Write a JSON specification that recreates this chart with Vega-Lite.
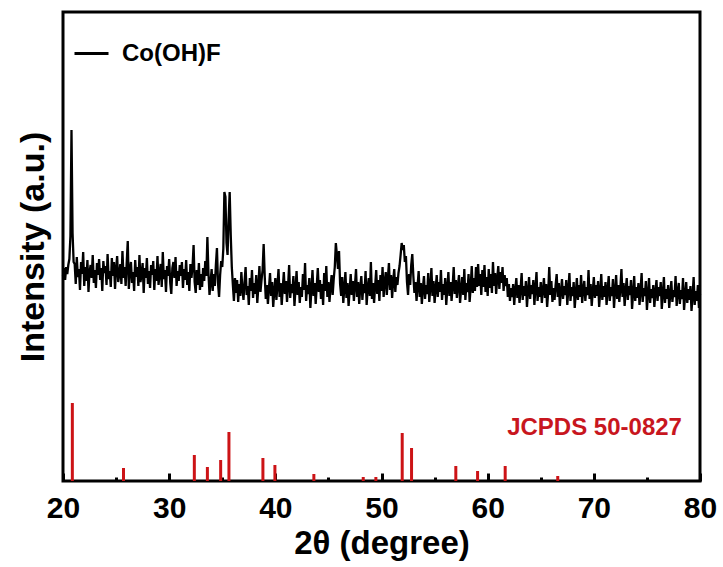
{
  "$schema": "https://vega.github.io/schema/vega-lite/v6.json",
  "width": 637,
  "height": 469,
  "autosize": {"type": "none"},
  "padding": {"left": 63, "top": 12, "right": 23, "bottom": 86},
  "background": "white",
  "config": {
    "view": {"stroke": "black", "strokeWidth": 3},
    "font": "Liberation Sans"
  },
  "datasets": {
    "xrd": [
{"t":20.0,"i":205},{"t":20.1,"i":213},{"t":20.2,"i":201},{"t":20.3,"i":214},{"t":20.4,"i":207},{"t":20.5,"i":216},{"t":20.6,"i":222},{"t":20.7,"i":245},{"t":20.8,"i":351},{"t":20.9,"i":248},{"t":21.0,"i":219},
{"t":21.1,"i":217},{"t":21.2,"i":197},{"t":21.3,"i":224},{"t":21.4,"i":204},{"t":21.5,"i":212},{"t":21.6,"i":191},{"t":21.7,"i":219},{"t":21.8,"i":207},{"t":21.9,"i":229},{"t":22.0,"i":195},
{"t":22.1,"i":214},{"t":22.2,"i":200},{"t":22.3,"i":221},{"t":22.4,"i":189},{"t":22.5,"i":209},{"t":22.6,"i":216},{"t":22.7,"i":203},{"t":22.8,"i":226},{"t":22.9,"i":198},{"t":23.0,"i":211},
{"t":23.1,"i":193},{"t":23.2,"i":218},{"t":23.3,"i":206},{"t":23.4,"i":222},{"t":23.5,"i":201},{"t":23.6,"i":213},{"t":23.7,"i":190},{"t":23.8,"i":220},{"t":23.9,"i":208},{"t":24.0,"i":215},
{"t":24.1,"i":196},{"t":24.2,"i":227},{"t":24.3,"i":202},{"t":24.4,"i":210},{"t":24.5,"i":194},{"t":24.6,"i":223},{"t":24.7,"i":205},{"t":24.8,"i":219},{"t":24.9,"i":192},{"t":25.0,"i":212},
{"t":25.1,"i":225},{"t":25.2,"i":199},{"t":25.3,"i":207},{"t":25.4,"i":217},{"t":25.5,"i":197},{"t":25.6,"i":230},{"t":25.7,"i":203},{"t":25.8,"i":214},{"t":25.9,"i":195},{"t":26.0,"i":218},
{"t":26.1,"i":240},{"t":26.2,"i":192},{"t":26.3,"i":211},{"t":26.4,"i":219},{"t":26.5,"i":198},{"t":26.6,"i":209},{"t":26.7,"i":190},{"t":26.8,"i":221},{"t":26.9,"i":204},{"t":27.0,"i":214},
{"t":27.1,"i":195},{"t":27.2,"i":226},{"t":27.3,"i":199},{"t":27.4,"i":207},{"t":27.5,"i":218},{"t":27.6,"i":188},{"t":27.7,"i":213},{"t":27.8,"i":203},{"t":27.9,"i":223},{"t":28.0,"i":197},
{"t":28.1,"i":210},{"t":28.2,"i":193},{"t":28.3,"i":216},{"t":28.4,"i":206},{"t":28.5,"i":220},{"t":28.6,"i":191},{"t":28.7,"i":212},{"t":28.8,"i":200},{"t":28.9,"i":225},{"t":29.0,"i":196},
{"t":29.1,"i":208},{"t":29.2,"i":217},{"t":29.3,"i":194},{"t":29.4,"i":229},{"t":29.5,"i":202},{"t":29.6,"i":211},{"t":29.7,"i":189},{"t":29.8,"i":215},{"t":29.9,"i":205},{"t":30.0,"i":222},
{"t":30.1,"i":198},{"t":30.2,"i":187},{"t":30.3,"i":213},{"t":30.4,"i":219},{"t":30.5,"i":203},{"t":30.6,"i":224},{"t":30.7,"i":195},{"t":30.8,"i":210},{"t":30.9,"i":200},{"t":31.0,"i":216},
{"t":31.1,"i":205},{"t":31.2,"i":219},{"t":31.3,"i":193},{"t":31.4,"i":212},{"t":31.5,"i":201},{"t":31.6,"i":221},{"t":31.7,"i":196},{"t":31.8,"i":209},{"t":31.9,"i":190},{"t":32.0,"i":217},
{"t":32.1,"i":203},{"t":32.2,"i":214},{"t":32.3,"i":236},{"t":32.4,"i":199},{"t":32.5,"i":188},{"t":32.6,"i":211},{"t":32.7,"i":196},{"t":32.8,"i":218},{"t":32.9,"i":191},{"t":33.0,"i":207},
{"t":33.1,"i":194},{"t":33.2,"i":213},{"t":33.3,"i":200},{"t":33.4,"i":220},{"t":33.5,"i":205},{"t":33.6,"i":244},{"t":33.7,"i":208},{"t":33.8,"i":186},{"t":33.9,"i":199},{"t":34.0,"i":212},
{"t":34.1,"i":190},{"t":34.2,"i":207},{"t":34.3,"i":195},{"t":34.4,"i":216},{"t":34.5,"i":233},{"t":34.6,"i":198},{"t":34.7,"i":184},{"t":34.8,"i":206},{"t":34.9,"i":220},{"t":35.0,"i":214},
{"t":35.1,"i":232},{"t":35.2,"i":289},{"t":35.3,"i":284},{"t":35.4,"i":238},{"t":35.5,"i":226},{"t":35.6,"i":262},{"t":35.7,"i":289},{"t":35.8,"i":246},{"t":35.9,"i":214},{"t":36.0,"i":196},
{"t":36.1,"i":180},{"t":36.2,"i":203},{"t":36.3,"i":188},{"t":36.4,"i":201},{"t":36.5,"i":179},{"t":36.6,"i":197},{"t":36.7,"i":185},{"t":36.8,"i":209},{"t":36.9,"i":192},{"t":37.0,"i":181},
{"t":37.1,"i":199},{"t":37.2,"i":214},{"t":37.3,"i":186},{"t":37.4,"i":195},{"t":37.5,"i":176},{"t":37.6,"i":203},{"t":37.7,"i":190},{"t":37.8,"i":211},{"t":37.9,"i":183},{"t":38.0,"i":198},
{"t":38.1,"i":187},{"t":38.2,"i":206},{"t":38.3,"i":178},{"t":38.4,"i":194},{"t":38.5,"i":215},{"t":38.6,"i":189},{"t":38.7,"i":201},{"t":38.8,"i":211},{"t":38.9,"i":237},{"t":39.0,"i":205},
{"t":39.1,"i":182},{"t":39.2,"i":196},{"t":39.3,"i":177},{"t":39.4,"i":193},{"t":39.5,"i":208},{"t":39.6,"i":185},{"t":39.7,"i":199},{"t":39.8,"i":174},{"t":39.9,"i":190},{"t":40.0,"i":203},
{"t":40.1,"i":181},{"t":40.2,"i":196},{"t":40.3,"i":212},{"t":40.4,"i":184},{"t":40.5,"i":198},{"t":40.6,"i":176},{"t":40.7,"i":193},{"t":40.8,"i":209},{"t":40.9,"i":187},{"t":41.0,"i":200},
{"t":41.1,"i":179},{"t":41.2,"i":195},{"t":41.3,"i":216},{"t":41.4,"i":183},{"t":41.5,"i":197},{"t":41.6,"i":188},{"t":41.7,"i":205},{"t":41.8,"i":175},{"t":41.9,"i":192},{"t":42.0,"i":210},
{"t":42.1,"i":186},{"t":42.2,"i":199},{"t":42.3,"i":178},{"t":42.4,"i":194},{"t":42.5,"i":184},{"t":42.6,"i":207},{"t":42.7,"i":191},{"t":42.8,"i":218},{"t":42.9,"i":180},{"t":43.0,"i":196},
{"t":43.1,"i":187},{"t":43.2,"i":203},{"t":43.3,"i":173},{"t":43.4,"i":192},{"t":43.5,"i":211},{"t":43.6,"i":185},{"t":43.7,"i":198},{"t":43.8,"i":177},{"t":43.9,"i":195},{"t":44.0,"i":213},
{"t":44.1,"i":189},{"t":44.2,"i":201},{"t":44.3,"i":182},{"t":44.4,"i":197},{"t":44.5,"i":176},{"t":44.6,"i":208},{"t":44.7,"i":190},{"t":44.8,"i":215},{"t":44.9,"i":184},{"t":45.0,"i":199},
{"t":45.1,"i":179},{"t":45.2,"i":194},{"t":45.3,"i":206},{"t":45.4,"i":186},{"t":45.5,"i":202},{"t":45.6,"i":214},{"t":45.7,"i":238},{"t":45.8,"i":226},{"t":45.9,"i":212},{"t":46.0,"i":230},
{"t":46.1,"i":197},{"t":46.2,"i":185},{"t":46.3,"i":204},{"t":46.4,"i":178},{"t":46.5,"i":193},{"t":46.6,"i":209},{"t":46.7,"i":183},{"t":46.8,"i":198},{"t":46.9,"i":175},{"t":47.0,"i":191},
{"t":47.1,"i":207},{"t":47.2,"i":186},{"t":47.3,"i":200},{"t":47.4,"i":180},{"t":47.5,"i":196},{"t":47.6,"i":212},{"t":47.7,"i":184},{"t":47.8,"i":199},{"t":47.9,"i":177},{"t":48.0,"i":194},
{"t":48.1,"i":205},{"t":48.2,"i":181},{"t":48.3,"i":197},{"t":48.4,"i":188},{"t":48.5,"i":210},{"t":48.6,"i":176},{"t":48.7,"i":193},{"t":48.8,"i":203},{"t":48.9,"i":185},{"t":49.0,"i":219},
{"t":49.1,"i":182},{"t":49.2,"i":198},{"t":49.3,"i":178},{"t":49.4,"i":195},{"t":49.5,"i":211},{"t":49.6,"i":187},{"t":49.7,"i":201},{"t":49.8,"i":180},{"t":49.9,"i":206},{"t":50.0,"i":190},
{"t":50.1,"i":214},{"t":50.2,"i":184},{"t":50.3,"i":199},{"t":50.4,"i":209},{"t":50.5,"i":186},{"t":50.6,"i":203},{"t":50.7,"i":218},{"t":50.8,"i":191},{"t":50.9,"i":206},{"t":51.0,"i":183},
{"t":51.1,"i":200},{"t":51.2,"i":212},{"t":51.3,"i":189},{"t":51.4,"i":204},{"t":51.5,"i":196},{"t":51.6,"i":208},{"t":51.7,"i":215},{"t":51.8,"i":226},{"t":51.9,"i":238},{"t":52.0,"i":231},
{"t":52.1,"i":236},{"t":52.2,"i":219},{"t":52.3,"i":225},{"t":52.4,"i":199},{"t":52.5,"i":186},{"t":52.6,"i":207},{"t":52.7,"i":196},{"t":52.8,"i":216},{"t":52.9,"i":227},{"t":53.0,"i":205},
{"t":53.1,"i":188},{"t":53.2,"i":199},{"t":53.3,"i":180},{"t":53.4,"i":195},{"t":53.5,"i":210},{"t":53.6,"i":184},{"t":53.7,"i":198},{"t":53.8,"i":177},{"t":53.9,"i":193},{"t":54.0,"i":205},
{"t":54.1,"i":182},{"t":54.2,"i":196},{"t":54.3,"i":187},{"t":54.4,"i":208},{"t":54.5,"i":179},{"t":54.6,"i":194},{"t":54.7,"i":213},{"t":54.8,"i":185},{"t":54.9,"i":200},{"t":55.0,"i":178},
{"t":55.1,"i":192},{"t":55.2,"i":206},{"t":55.3,"i":184},{"t":55.4,"i":199},{"t":55.5,"i":189},{"t":55.6,"i":211},{"t":55.7,"i":181},{"t":55.8,"i":197},{"t":55.9,"i":186},{"t":56.0,"i":203},
{"t":56.1,"i":176},{"t":56.2,"i":193},{"t":56.3,"i":209},{"t":56.4,"i":185},{"t":56.5,"i":199},{"t":56.6,"i":180},{"t":56.7,"i":195},{"t":56.8,"i":214},{"t":56.9,"i":187},{"t":57.0,"i":201},
{"t":57.1,"i":183},{"t":57.2,"i":196},{"t":57.3,"i":206},{"t":57.4,"i":178},{"t":57.5,"i":192},{"t":57.6,"i":204},{"t":57.7,"i":186},{"t":57.8,"i":212},{"t":57.9,"i":181},{"t":58.0,"i":198},
{"t":58.1,"i":189},{"t":58.2,"i":207},{"t":58.3,"i":179},{"t":58.4,"i":194},{"t":58.5,"i":215},{"t":58.6,"i":188},{"t":58.7,"i":203},{"t":58.8,"i":190},{"t":58.9,"i":214},{"t":59.0,"i":194},
{"t":59.1,"i":217},{"t":59.2,"i":195},{"t":59.3,"i":207},{"t":59.4,"i":186},{"t":59.5,"i":211},{"t":59.6,"i":194},{"t":59.7,"i":216},{"t":59.8,"i":189},{"t":59.9,"i":204},{"t":60.0,"i":185},
{"t":60.1,"i":212},{"t":60.2,"i":193},{"t":60.3,"i":207},{"t":60.4,"i":188},{"t":60.5,"i":219},{"t":60.6,"i":195},{"t":60.7,"i":208},{"t":60.8,"i":187},{"t":60.9,"i":203},{"t":61.0,"i":215},
{"t":61.1,"i":192},{"t":61.2,"i":209},{"t":61.3,"i":198},{"t":61.4,"i":214},{"t":61.5,"i":190},{"t":61.6,"i":206},{"t":61.7,"i":195},{"t":61.8,"i":203},{"t":61.9,"i":184},{"t":62.0,"i":197},
{"t":62.1,"i":180},{"t":62.2,"i":193},{"t":62.3,"i":184},{"t":62.4,"i":197},{"t":62.5,"i":176},{"t":62.6,"i":191},{"t":62.7,"i":203},{"t":62.8,"i":183},{"t":62.9,"i":196},{"t":63.0,"i":178},
{"t":63.1,"i":192},{"t":63.2,"i":208},{"t":63.3,"i":181},{"t":63.4,"i":195},{"t":63.5,"i":185},{"t":63.6,"i":200},{"t":63.7,"i":174},{"t":63.8,"i":190},{"t":63.9,"i":204},{"t":64.0,"i":182},
{"t":64.1,"i":196},{"t":64.2,"i":187},{"t":64.3,"i":201},{"t":64.4,"i":176},{"t":64.5,"i":193},{"t":64.6,"i":209},{"t":64.7,"i":180},{"t":64.8,"i":194},{"t":64.9,"i":184},{"t":65.0,"i":199},
{"t":65.1,"i":178},{"t":65.2,"i":191},{"t":65.3,"i":203},{"t":65.4,"i":183},{"t":65.5,"i":197},{"t":65.6,"i":174},{"t":65.7,"i":189},{"t":65.8,"i":214},{"t":65.9,"i":186},{"t":66.0,"i":200},
{"t":66.1,"i":179},{"t":66.2,"i":193},{"t":66.3,"i":181},{"t":66.4,"i":196},{"t":66.5,"i":207},{"t":66.6,"i":184},{"t":66.7,"i":198},{"t":66.8,"i":175},{"t":66.9,"i":190},{"t":67.0,"i":202},
{"t":67.1,"i":182},{"t":67.2,"i":195},{"t":67.3,"i":186},{"t":67.4,"i":201},{"t":67.5,"i":176},{"t":67.6,"i":192},{"t":67.7,"i":208},{"t":67.8,"i":180},{"t":67.9,"i":194},{"t":68.0,"i":185},
{"t":68.1,"i":199},{"t":68.2,"i":173},{"t":68.3,"i":188},{"t":68.4,"i":203},{"t":68.5,"i":181},{"t":68.6,"i":196},{"t":68.7,"i":184},{"t":68.8,"i":206},{"t":68.9,"i":178},{"t":69.0,"i":192},
{"t":69.1,"i":200},{"t":69.2,"i":180},{"t":69.3,"i":194},{"t":69.4,"i":186},{"t":69.5,"i":211},{"t":69.6,"i":182},{"t":69.7,"i":197},{"t":69.8,"i":175},{"t":69.9,"i":190},{"t":70.0,"i":204},
{"t":70.1,"i":183},{"t":70.2,"i":196},{"t":70.3,"i":185},{"t":70.4,"i":200},{"t":70.5,"i":174},{"t":70.6,"i":189},{"t":70.7,"i":207},{"t":70.8,"i":181},{"t":70.9,"i":195},{"t":71.0,"i":184},
{"t":71.1,"i":199},{"t":71.2,"i":176},{"t":71.3,"i":191},{"t":71.4,"i":205},{"t":71.5,"i":180},{"t":71.6,"i":194},{"t":71.7,"i":185},{"t":71.8,"i":202},{"t":71.9,"i":173},{"t":72.0,"i":190},
{"t":72.1,"i":206},{"t":72.2,"i":182},{"t":72.3,"i":196},{"t":72.4,"i":179},{"t":72.5,"i":193},{"t":72.6,"i":212},{"t":72.7,"i":184},{"t":72.8,"i":198},{"t":72.9,"i":175},{"t":73.0,"i":191},
{"t":73.1,"i":203},{"t":73.2,"i":181},{"t":73.3,"i":195},{"t":73.4,"i":186},{"t":73.5,"i":201},{"t":73.6,"i":172},{"t":73.7,"i":188},{"t":73.8,"i":205},{"t":73.9,"i":180},{"t":74.0,"i":194},
{"t":74.1,"i":183},{"t":74.2,"i":198},{"t":74.3,"i":176},{"t":74.4,"i":190},{"t":74.5,"i":208},{"t":74.6,"i":179},{"t":74.7,"i":193},{"t":74.8,"i":185},{"t":74.9,"i":200},{"t":75.0,"i":171},
{"t":75.1,"i":187},{"t":75.2,"i":203},{"t":75.3,"i":178},{"t":75.4,"i":192},{"t":75.5,"i":183},{"t":75.6,"i":196},{"t":75.7,"i":174},{"t":75.8,"i":189},{"t":75.9,"i":201},{"t":76.0,"i":180},
{"t":76.1,"i":194},{"t":76.2,"i":185},{"t":76.3,"i":199},{"t":76.4,"i":172},{"t":76.5,"i":188},{"t":76.6,"i":204},{"t":76.7,"i":178},{"t":76.8,"i":192},{"t":76.9,"i":182},{"t":77.0,"i":196},
{"t":77.1,"i":173},{"t":77.2,"i":187},{"t":77.3,"i":200},{"t":77.4,"i":179},{"t":77.5,"i":191},{"t":77.6,"i":184},{"t":77.7,"i":205},{"t":77.8,"i":175},{"t":77.9,"i":189},{"t":78.0,"i":198},
{"t":78.1,"i":177},{"t":78.2,"i":191},{"t":78.3,"i":182},{"t":78.4,"i":203},{"t":78.5,"i":171},{"t":78.6,"i":186},{"t":78.7,"i":199},{"t":78.8,"i":178},{"t":78.9,"i":192},{"t":79.0,"i":181},
{"t":79.1,"i":195},{"t":79.2,"i":170},{"t":79.3,"i":185},{"t":79.4,"i":204},{"t":79.5,"i":176},{"t":79.6,"i":190},{"t":79.7,"i":180},{"t":79.8,"i":196},{"t":79.9,"i":173},{"t":80.0,"i":187}
    ],
    "ref": [
      {"t":20.88,"h":78},{"t":25.7,"h":13},{"t":32.37,"h":26},{"t":33.6,"h":14},{"t":34.85,"h":21},{"t":35.63,"h":49},{"t":38.83,"h":23},{"t":39.96,"h":16},{"t":43.63,"h":7},{"t":48.28,"h":4},{"t":49.47,"h":4},{"t":51.95,"h":48},{"t":52.83,"h":33},{"t":57.0,"h":15},{"t":59.05,"h":10},{"t":61.65,"h":15},{"t":66.6,"h":5}
    ],
    "note": [{"label":"JCPDS 50-0827"}]
  },
  "resolve": {"axis": {"x": "independent"}},
  "layer": [
    {
      "data": {"name": "xrd"},
      "mark": {"type": "line", "strokeWidth": 2.3, "interpolate": "linear"},
      "encoding": {
        "x": {"field": "t", "type": "quantitative",
              "scale": {"domain": [20, 80], "nice": false, "zero": false},
              "axis": {"orient": "bottom", "values": [20, 30, 40, 50, 60, 70, 80], "tickSize": -8, "tickWidth": 3, "tickColor": "black",
                       "domain": false, "grid": false, "labelFlush": false, "labelOverlap": false,
                       "labelFont": "Liberation Sans", "labelFontSize": 30, "labelFontWeight": "bold", "labelColor": "black", "labelPadding": 20,
                       "title": "2θ (degree)", "titleFont": "Liberation Sans", "titleFontSize": 33, "titleFontWeight": "bold", "titleColor": "black", "titlePadding": 4}},
        "y": {"field": "i", "type": "quantitative",
              "scale": {"domain": [0, 469], "nice": false},
              "axis": {"ticks": false, "labels": false, "domain": false, "grid": false,
                       "title": "Intensity (a.u.)", "titleFont": "Liberation Sans", "titleFontSize": 34, "titleFontWeight": "bold", "titleColor": "black", "titlePadding": 13}},
        "color": {"datum": "Co(OH)F", "type": "nominal",
                  "scale": {"range": ["black"]},
                  "legend": {"orient": "none", "legendX": 10, "legendY": 23, "title": null, "padding": 0,
                             "symbolType": "stroke", "symbolSize": 1156, "symbolStrokeWidth": 3, "symbolStrokeColor": "black",
                             "labelFont": "Liberation Sans", "labelFontSize": 24, "labelFontWeight": "bold", "labelColor": "black", "labelOffset": 12}}
      }
    },
    {
      "data": {"name": "ref"},
      "mark": {"type": "rule", "color": "#cc1316", "strokeWidth": 3},
      "encoding": {
        "x": {"field": "t", "type": "quantitative",
              "axis": {"orient": "bottom", "values": [25, 35, 45, 55, 65, 75], "tickSize": -4, "tickWidth": 3, "tickColor": "black",
                       "labels": false, "domain": false, "grid": false, "title": null}},
        "y": {"field": "h", "type": "quantitative",
              "axis": {"ticks": false, "labels": false, "domain": false, "grid": false,
                       "title": "Intensity (a.u.)", "titleFont": "Liberation Sans", "titleFontSize": 34, "titleFontWeight": "bold", "titleColor": "black", "titlePadding": 13}},
        "y2": {"datum": 0}
      }
    },
    {
      "data": {"name": "note"},
      "mark": {"type": "text", "align": "right", "baseline": "alphabetic", "font": "Liberation Sans", "fontSize": 24, "fontWeight": "bold", "color": "#c8161e"},
      "encoding": {
        "x": {"datum": 78.3, "type": "quantitative", "axis": null},
        "y": {"datum": 46, "type": "quantitative",
              "axis": {"ticks": false, "labels": false, "domain": false, "grid": false,
                       "title": "Intensity (a.u.)", "titleFont": "Liberation Sans", "titleFontSize": 34, "titleFontWeight": "bold", "titleColor": "black", "titlePadding": 13}},
        "text": {"field": "label"}
      }
    }
  ]
}
